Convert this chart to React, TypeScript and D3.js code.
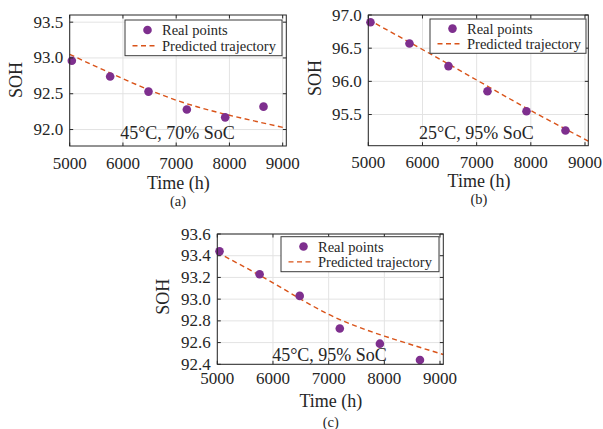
import React, { useEffect, useRef } from 'react';
import * as d3 from "d3";

const timeH = [5040, 5760, 6480, 7200, 7920, 8640];
const sohA = [92.96, 92.74, 92.53, 92.28, 92.17, 92.32];
const sohB = [96.89, 96.57, 96.23, 95.85, 95.55, 95.26];
const sohC = [93.44, 93.23, 93.03, 92.73, 92.59, 92.44];

// predicted trajectory samples
const predTimeA = [5000, 6000, 7000, 8000, 9068];
const predA = [93.05, 92.71, 92.41, 92.2, 92.02];
const predTimeB = [5000, 6000, 7000, 8000, 9061];
const predB = [96.93, 96.48, 96.02, 95.56, 95.1];
const predTimeC = [5000, 6000, 7000, 8000, 9059];
const predC = [93.43, 93.15, 92.86, 92.66, 92.49];

const xTicks = [5000, 6000, 7000, 8000, 9000];
const yTicksA = [92.0, 92.5, 93.0, 93.5];
const yTicksB = [95.5, 96.0, 96.5, 97.0];
const yTicksC = [92.4, 92.6, 92.8, 93.0, 93.2, 93.4, 93.6];

const conditions = ["45°C, 70% SoC", "25°C, 95% SoC", "45°C, 95% SoC"];
const tags = ["(a)", "(b)", "(c)"];
const legendLabels = ["Real points", "Predicted trajectory"];

const purple = "#7E2F8E";
const orange = "#D95319";
const ink = "#262626";
const font = "'Liberation Serif', 'Times New Roman', serif";

function App() {
  const ref = useRef(null);

  useEffect(() => {
    const svg = d3.select(ref.current);
    svg.selectAll("*").remove();

    const panels = [
      { soh: sohA, pt: predTimeA, pv: predA, yt: yTicksA,
        box: [69.7, 286.3, 15, 146], xd: [5000, 9068], yd: [91.77, 93.6],
        leg: [125, 20, 282, 55.7], note: [177.5, 133], sohL: [16, 80], xl: [178.3, 182.5], tag: [178, 200.5], xtY: 163 },
      { soh: sohB, pt: predTimeB, pv: predB, yt: yTicksB,
        box: [368.3, 588.3, 15, 145.7], xd: [5000, 9061], yd: [95.03, 97.0],
        leg: [430, 19, 586, 53.3], note: [476.3, 133], sohL: [315, 78], xl: [479, 181], tag: [479, 198.5], xtY: 162 },
      { soh: sohC, pt: predTimeC, pv: predC, yt: yTicksC,
        box: [217.3, 443.3, 234, 364.3], xd: [5000, 9059], yd: [92.4, 93.6],
        leg: [281, 236.7, 439, 271.7], note: [329.5, 355], sohL: [163.3, 296.7], xl: [330.8, 401], tag: [330.8, 421.5], xtY: 378.3 },
    ];

    const txt = (g, x0, y0, s, size, anchor = "middle") =>
      g.append("text").attr("x", x0).attr("y", y0).attr("text-anchor", anchor)
        .attr("dominant-baseline", "central").style("font-family", font)
        .attr("font-size", size).attr("fill", ink).text(s);

    panels.forEach((p, i) => {
      const [l, r, t, b] = p.box;
      const x = d3.scaleLinear().domain(p.xd).range([l, r]);
      const y = d3.scaleLinear().domain(p.yd).range([b, t]);
      const g = svg.append("g");

      // grid
      g.selectAll(".gx").data(xTicks).join("line").attr("class", "gx")
        .attr("x1", d => x(d)).attr("x2", d => x(d)).attr("y1", t).attr("y2", b)
        .attr("stroke", "#e3e3e3").attr("stroke-width", 1);
      g.selectAll(".gy").data(p.yt).join("line").attr("class", "gy")
        .attr("x1", l).attr("x2", r).attr("y1", d => y(d)).attr("y2", d => y(d))
        .attr("stroke", "#e3e3e3").attr("stroke-width", 1);

      // predicted trajectory
      const line = d3.line().x(d => x(d[0])).y(d => y(d[1])).curve(d3.curveNatural);
      g.append("path")
        .datum(p.pt.map((tt, k) => [tt, p.pv[k]]))
        .attr("d", line)
        .attr("fill", "none").attr("stroke", orange).attr("stroke-width", 1.4)
        .attr("stroke-dasharray", "5,3.5");

      // points
      g.selectAll(".pt").data(timeH).join("circle").attr("class", "pt")
        .attr("cx", d => x(d)).attr("cy", (d, k) => y(p.soh[k])).attr("r", 4.3)
        .attr("fill", purple);

      // box + inward ticks
      g.append("rect").attr("x", l).attr("y", t).attr("width", r - l).attr("height", b - t)
        .attr("fill", "none").attr("stroke", ink).attr("stroke-width", 1);
      xTicks.forEach(v => {
        g.append("line").attr("x1", x(v)).attr("x2", x(v)).attr("y1", b).attr("y2", b - 3.5).attr("stroke", ink);
        g.append("line").attr("x1", x(v)).attr("x2", x(v)).attr("y1", t).attr("y2", t + 3.5).attr("stroke", ink);
        txt(g, x(v), p.xtY, String(v), 17);
      });
      p.yt.forEach(v => {
        g.append("line").attr("x1", l).attr("x2", l + 3.5).attr("y1", y(v)).attr("y2", y(v)).attr("stroke", ink);
        g.append("line").attr("x1", r).attr("x2", r - 3.5).attr("y1", y(v)).attr("y2", y(v)).attr("stroke", ink);
        txt(g, l - 6.5, y(v), d3.format(".1f")(v), 17, "end");
      });

      // legend
      const [lx0, ly0, lx1, ly1] = p.leg;
      const lh = ly1 - ly0;
      g.append("rect").attr("x", lx0).attr("y", ly0).attr("width", lx1 - lx0).attr("height", lh)
        .attr("fill", "white").attr("stroke", "#3a3a3a").attr("stroke-width", 1);
      const r1 = ly0 + lh * 0.28, r2 = ly0 + lh * 0.72;
      g.append("circle").attr("cx", lx0 + 22.5).attr("cy", r1).attr("r", 4.3).attr("fill", purple);
      g.append("line").attr("x1", lx0 + 7.5).attr("x2", lx0 + 30).attr("y1", r2).attr("y2", r2)
        .attr("stroke", orange).attr("stroke-width", 1.4).attr("stroke-dasharray", "5,3.5");
      [r1, r2].forEach((yy, k) => txt(g, lx0 + 37, yy, legendLabels[k], 14.5, "start"));

      // condition note
      txt(g, p.note[0], p.note[1], conditions[i], 18);

      // axis labels
      txt(g, 0, 0, "SOH", 18).attr("transform", `translate(${p.sohL[0]},${p.sohL[1]}) rotate(-90)`);
      txt(g, p.xl[0], p.xl[1], "Time (h)", 18);
      txt(g, p.tag[0], p.tag[1], tags[i], 14.5);
    });
  }, []);

  return (
    <div style={{ position: "absolute", left: 0, top: 0 }}>
      <svg ref={ref} width={603} height={429} style={{ display: "block", background: "white" }} />
    </div>
  );
}

export default App;
